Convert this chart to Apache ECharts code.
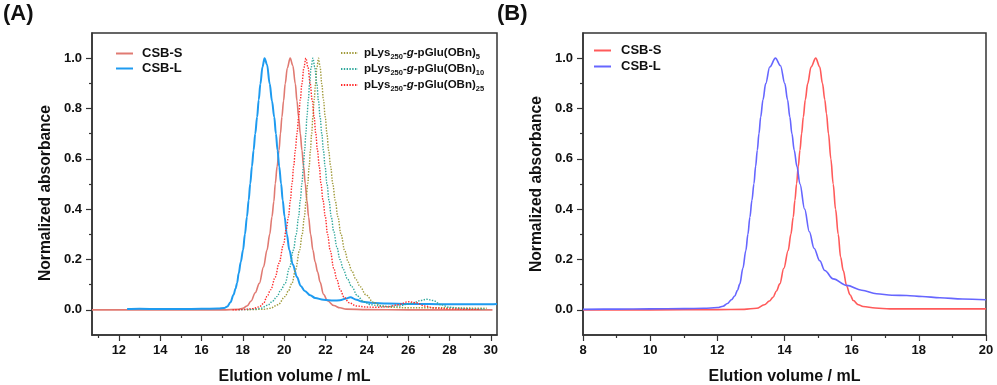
<!DOCTYPE html>
<html>
<head>
<meta charset="utf-8">
<script src="https://cdn.jsdelivr.net/npm/echarts@6/dist/echarts.min.js"></script>
<style>
html,body{margin:0;padding:0;background:#fff;}
#c{width:997px;height:385px;}
</style>
</head>
<body>
<div id="c"></div>
<script>
// ---------- Panel A data ----------
const aCsbS = [[10.7,0],[12,0],[14,0],[16,0],[17,0],[17.8,0.002],[18.0,0.006],[18.2,0.015],[18.4,0.035],[18.6,0.068],[18.8,0.105],[19.0,0.17],[19.17,0.238],[19.3,0.30],[19.41,0.37],[19.5,0.43],[19.57,0.502],[19.66,0.57],[19.75,0.634],[19.82,0.70],[19.89,0.766],[19.97,0.83],[20.05,0.898],[20.15,0.96],[20.29,1.0],[20.42,0.97],[20.54,0.898],[20.62,0.83],[20.7,0.766],[20.78,0.70],[20.86,0.634],[20.94,0.57],[21.02,0.502],[21.1,0.435],[21.18,0.37],[21.28,0.30],[21.39,0.238],[21.5,0.19],[21.62,0.15],[21.74,0.11],[21.9,0.062],[22.1,0.036],[22.4,0.017],[22.7,0.008],[23.0,0.003],[24,0.001],[26,0],[28,0],[30.08,0]];
const aCsbL = [[12.4,0.003],[13,0.004],[14,0.003],[15,0.003],[16,0.004],[16.8,0.005],[17.1,0.007],[17.25,0.013],[17.4,0.03],[17.55,0.06],[17.65,0.085],[17.72,0.106],[17.8,0.145],[17.9,0.19],[18.01,0.238],[18.1,0.30],[18.2,0.37],[18.28,0.435],[18.36,0.502],[18.44,0.57],[18.52,0.634],[18.6,0.70],[18.69,0.766],[18.77,0.835],[18.85,0.898],[18.95,0.965],[19.05,1.0],[19.17,0.975],[19.3,0.898],[19.41,0.83],[19.52,0.766],[19.6,0.70],[19.68,0.634],[19.76,0.57],[19.85,0.502],[19.93,0.435],[20.02,0.37],[20.13,0.30],[20.25,0.238],[20.42,0.18],[20.62,0.13],[20.8,0.095],[21.0,0.075],[21.26,0.058],[21.5,0.047],[21.9,0.04],[22.4,0.037],[22.7,0.038],[23.0,0.045],[23.2,0.05],[23.5,0.04],[23.8,0.032],[24.2,0.028],[25,0.025],[26,0.023],[27,0.023],[28,0.022],[29,0.022],[30,0.022],[30.3,0.023]];
const aPLys5 = [[18.2,0],[19.0,0.002],[19.33,0.006],[19.7,0.02],[20.05,0.053],[20.2,0.075],[20.38,0.106],[20.55,0.16],[20.75,0.238],[20.87,0.30],[20.98,0.37],[21.06,0.435],[21.14,0.502],[21.21,0.57],[21.27,0.634],[21.33,0.70],[21.39,0.766],[21.45,0.835],[21.52,0.898],[21.58,0.96],[21.66,1.0],[21.74,0.965],[21.82,0.898],[21.9,0.835],[21.99,0.766],[22.07,0.70],[22.15,0.634],[22.25,0.57],[22.35,0.502],[22.47,0.435],[22.6,0.37],[22.75,0.30],[22.93,0.235],[23.1,0.19],[23.27,0.155],[23.48,0.12],[23.68,0.092],[23.95,0.06],[24.32,0.03],[24.7,0.016],[25.2,0.01],[26,0.008],[27,0.008],[28,0.008],[29,0.007],[29.8,0.006]];
const aPLys10 = [[17.8,0],[18.5,0.002],[18.85,0.006],[19.2,0.018],[19.45,0.035],[19.65,0.053],[19.85,0.08],[20.05,0.106],[20.25,0.165],[20.45,0.238],[20.58,0.30],[20.7,0.37],[20.78,0.435],[20.86,0.502],[20.93,0.57],[20.99,0.634],[21.05,0.70],[21.1,0.766],[21.17,0.835],[21.23,0.898],[21.3,0.96],[21.39,1.0],[21.48,0.965],[21.58,0.898],[21.66,0.83],[21.74,0.766],[21.82,0.70],[21.9,0.634],[21.98,0.57],[22.07,0.502],[22.17,0.435],[22.28,0.37],[22.4,0.31],[22.55,0.25],[22.7,0.2],[22.87,0.16],[23.05,0.125],[23.27,0.092],[23.55,0.055],[23.84,0.033],[24.2,0.02],[24.8,0.013],[25.5,0.015],[26.2,0.026],[26.6,0.037],[26.9,0.042],[27.2,0.037],[27.6,0.02],[28,0.01],[28.5,0.006],[29,0.004],[29.7,0.003]];
const aPLys25 = [[17.5,0],[18.0,0.001],[18.5,0.005],[18.8,0.012],[19.0,0.025],[19.17,0.053],[19.35,0.08],[19.57,0.13],[19.75,0.185],[19.97,0.26],[20.1,0.32],[20.21,0.37],[20.3,0.435],[20.38,0.502],[20.46,0.57],[20.54,0.634],[20.62,0.70],[20.7,0.766],[20.78,0.835],[20.86,0.898],[20.95,0.96],[21.05,1.0],[21.15,0.965],[21.26,0.898],[21.36,0.83],[21.45,0.766],[21.53,0.70],[21.61,0.634],[21.7,0.57],[21.78,0.502],[21.88,0.435],[21.99,0.37],[22.1,0.30],[22.23,0.235],[22.4,0.165],[22.55,0.12],[22.71,0.08],[22.9,0.05],[23.15,0.028],[23.5,0.015],[24,0.011],[24.5,0.01],[25,0.012],[25.5,0.02],[26.0,0.032],[26.4,0.028],[26.8,0.015],[27.3,0.007],[28,0.004],[29,0.002],[29.5,0.002]];

// ---------- Panel B data ----------
const bCsbS = [[8,0],[10,0],[12,0.001],[12.8,0.002],[13.17,0.006],[13.4,0.02],[13.55,0.035],[13.66,0.05],[13.76,0.075],[13.86,0.103],[13.98,0.165],[14.11,0.236],[14.19,0.30],[14.26,0.368],[14.31,0.435],[14.36,0.501],[14.41,0.57],[14.46,0.634],[14.51,0.70],[14.56,0.766],[14.62,0.835],[14.69,0.899],[14.79,0.965],[14.93,1.0],[15.05,0.965],[15.13,0.9],[15.2,0.835],[15.25,0.78],[15.31,0.70],[15.38,0.60],[15.45,0.50],[15.52,0.40],[15.6,0.30],[15.67,0.21],[15.75,0.156],[15.85,0.095],[15.95,0.06],[16.05,0.037],[16.2,0.02],[16.34,0.013],[16.7,0.007],[17.14,0.004],[18,0.004],[19,0.004],[20,0.004]];
const bCsbL = [[8,0.002],[9,0.003],[10,0.004],[11,0.005],[11.6,0.006],[12.0,0.009],[12.17,0.014],[12.3,0.025],[12.42,0.04],[12.52,0.055],[12.6,0.078],[12.67,0.103],[12.76,0.165],[12.85,0.236],[12.91,0.30],[12.97,0.368],[13.03,0.435],[13.09,0.501],[13.14,0.57],[13.19,0.634],[13.24,0.70],[13.29,0.766],[13.36,0.835],[13.44,0.899],[13.56,0.965],[13.73,1.0],[13.88,0.97],[14.01,0.899],[14.09,0.835],[14.16,0.766],[14.22,0.70],[14.29,0.634],[14.37,0.57],[14.46,0.50],[14.6,0.40],[14.74,0.31],[14.88,0.245],[15.05,0.195],[15.2,0.156],[15.45,0.123],[15.85,0.097],[16.3,0.078],[16.74,0.064],[17.2,0.058],[17.64,0.057],[18.1,0.053],[18.63,0.048],[19.3,0.043],[20,0.04]];

// ---------- ticks ----------
const aXMajor = [12,14,16,18,20,22,24,26,28,30];
const aXMinor = [11,13,15,17,19,21,23,25,27,29];
const bXMajor = [8,10,12,14,16,18,20];
const bXMinor = [9,11,13,15,17,19];
const yMajor = [0,0.2,0.4,0.6,0.8,1.0];
const yMinor = [0.1,0.3,0.5,0.7,0.9];

const FONT = 'Liberation Sans, Arial, sans-serif';
const AX = '#333';
const TXT = '#111';

function mainX(grid, min, max, major, name){
  return {type:'value', gridIndex:grid, min:min, max:max, position:'bottom',
    axisLine:{show:true,onZero:false,lineStyle:{color:AX,width:1.5}},
    axisTick:{show:true,customValues:major,length:6,lineStyle:{color:AX,width:1.2}},
    axisLabel:{customValues:major,margin:9,fontSize:13,fontWeight:'bold',color:TXT,fontFamily:FONT},
    splitLine:{show:false},
    name:name,nameLocation:'middle',nameGap:34,
    nameTextStyle:{fontSize:16,fontWeight:'bold',color:TXT,fontFamily:FONT}};
}
function minorX(grid,min,max,minor){
  return {type:'value', gridIndex:grid, min:min, max:max, position:'bottom',
    axisLine:{show:false,onZero:false},
    axisTick:{show:true,customValues:minor,length:3,lineStyle:{color:AX,width:1.2}},
    axisLabel:{show:false,customValues:minor},
    splitLine:{show:false}};
}
function mainY(grid,padR){
  return {type:'value', gridIndex:grid, min:-0.1, max:1.1, position:'left',
    axisLine:{show:true,onZero:false,lineStyle:{color:AX,width:1.5}},
    axisTick:{show:true,customValues:yMajor,length:6,lineStyle:{color:AX,width:1.2}},
    axisLabel:{customValues:yMajor,margin:10,fontSize:13,fontWeight:'bold',color:TXT,fontFamily:FONT,
      formatter:function(v){return (+v).toFixed(1);}},
    splitLine:{show:false},
    name:'Normalized absorbance',nameLocation:'middle',nameGap:38,
    nameTextStyle:{fontSize:15.6,fontWeight:'bold',color:TXT,fontFamily:FONT,padding:[0,padR,0,0]}};
}
function minorY(grid){
  return {type:'value', gridIndex:grid, min:-0.1, max:1.1, position:'left',
    axisLine:{show:false,onZero:false},
    axisTick:{show:true,customValues:yMinor,length:3,lineStyle:{color:AX,width:1.2}},
    axisLabel:{show:false,customValues:yMinor},
    splitLine:{show:false}};
}
function line(name, data, xi, yi, color, width, dotted){
  return {type:'line', name:name, data:data, xAxisIndex:xi, yAxisIndex:yi,
    showSymbol:false, symbol:'none', smooth:0.35, smoothMonotone:'x',
    lineStyle:{color:color,width:width,type:dotted?[1.4,1.4]:'solid'},
    itemStyle:{color:color}, z:dotted?3:2};
}

const richStyles = {
  n:{fontSize:11.5,fontWeight:'bold',color:TXT,fontFamily:FONT,lineHeight:16},
  i:{fontSize:11.5,fontWeight:'bold',fontStyle:'italic',color:TXT,fontFamily:FONT,lineHeight:16},
  s:{fontSize:7.5,fontWeight:'bold',color:TXT,fontFamily:FONT,lineHeight:8,verticalAlign:'bottom'}
};
const subs = {'pLys5':'5','pLys10':'10','pLys25':'25'};
const legendCommon = {orient:'vertical',itemWidth:17,itemHeight:14,padding:0,selectedMode:false,
  itemStyle:{opacity:0,borderWidth:0}};

const option = {
  animation:false,
  backgroundColor:'#fff',
  title:[
    {text:'(A)',left:3,top:3,padding:0,textStyle:{fontSize:22,fontWeight:'bold',color:TXT,fontFamily:FONT}},
    {text:'(B)',left:497,top:3,padding:0,textStyle:{fontSize:22,fontWeight:'bold',color:TXT,fontFamily:FONT}}
  ],
  grid:[
    {left:92,top:33,width:405,height:302,show:true,borderColor:AX,borderWidth:1.5,outerBoundsMode:'none',containLabel:false},
    {left:583,top:33,width:403,height:302,show:true,borderColor:AX,borderWidth:1.5,outerBoundsMode:'none',containLabel:false}
  ],
  xAxis:[
    mainX(0,10.7,30.3,aXMajor,'Elution volume / mL'),
    minorX(0,10.7,30.3,aXMinor),
    mainX(1,8,20,bXMajor,'Elution volume / mL'),
    minorX(1,8,20,bXMinor)
  ],
  yAxis:[mainY(0,18),minorY(0),mainY(1,0),minorY(1)],
  legend:[
    Object.assign({data:['CSB-S','CSB-L'],left:115,top:47,itemGap:2,
     textStyle:{fontSize:13,fontWeight:'bold',color:TXT,fontFamily:FONT,padding:[0,0,0,4]}},legendCommon),
    Object.assign({data:['pLys5','pLys10','pLys25'],left:340,top:47,itemGap:2,
     formatter:function(n){return '{n|pLys}{s|250}{n|-}{i|g}{n|-pGlu(OBn)}{s|'+subs[n]+'}';},
     textStyle:{fontSize:11.5,fontWeight:'bold',color:TXT,fontFamily:FONT,padding:[0,0,0,1],rich:richStyles}},legendCommon),
    Object.assign({data:['CSB-S (B)','CSB-L (B)'],left:593,top:44,itemGap:3,
     formatter:function(n){return n.replace(' (B)','');},
     textStyle:{fontSize:13,fontWeight:'bold',color:TXT,fontFamily:FONT,padding:[0,0,0,5]}},legendCommon)
  ],
  series:[
    line('CSB-S',aCsbS,0,0,'#E07A72',1.6,false),
    line('CSB-L',aCsbL,0,0,'#1E9BF0',2,false),
    line('pLys5',aPLys5,0,0,'#A09A3A',1.4,true),
    line('pLys10',aPLys10,0,0,'#30A89C',1.4,true),
    line('pLys25',aPLys25,0,0,'#FF2A2A',1.4,true),
    line('CSB-S (B)',bCsbS,2,2,'#FF5A5A',1.6,false),
    line('CSB-L (B)',bCsbL,2,2,'#6666FF',1.6,false)
  ]
};
const chart = echarts.init(document.getElementById('c'),null,{renderer:'canvas'});
chart.setOption(option);
</script>
</body>
</html>
